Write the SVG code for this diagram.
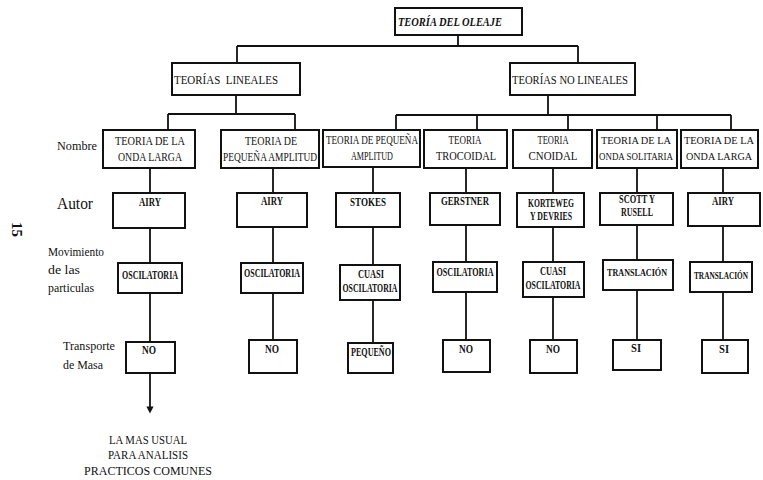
<svg xmlns="http://www.w3.org/2000/svg" width="763" height="480" viewBox="0 0 763 480">
<style>
.b{fill:#fff;stroke:#111;stroke-width:2}
.t{font-family:"Liberation Serif","DejaVu Serif",serif;font-weight:bold;font-size:11.5px;fill:#111;text-anchor:middle}
.h{font-family:"Liberation Serif","DejaVu Serif",serif;font-weight:bold;font-size:13.5px;fill:#111;text-anchor:middle}
.l{font-family:"Liberation Serif","DejaVu Serif",serif;font-size:13px;fill:#111}
.c{fill:none;stroke:#111;stroke-width:1.8}
.n{font-weight:normal}
.s{font-size:10.5px}
</style>
<defs>
<marker id="ar" viewBox="0 0 10 10" refX="5" refY="5" markerWidth="4" markerHeight="4" orient="auto">
<path d="M0,0 L10,5 L0,10 z" fill="#111"/>
</marker>
</defs>
<rect width="763" height="480" fill="#fff"/>
<g id="connectors" class="c">
<path d="M458,35V46M237,46H578M237,46V63M578,46V63"/>
<path d="M236,95V114M168,114H295M168,114V130M295,114V130"/>
<path d="M548,95V115M396,115H731M396,115V130M477,115V130M568,115V130M657,115V130M731,115V130"/>
<path d="M150,168V193M150,228V263M150,293V341"/>
<path d="M273,168V193M273,228V263M273,293V340"/>
<path d="M373,167V193M373,227V265M373,300V343"/>
<path d="M466,168V193M466,225V262M466,292V340"/>
<path d="M553,168V193M553,227V262M553,297V340"/>
<path d="M637,168V193M637,225V260M637,290V340"/>
<path d="M723,168V193M723,226V262M723,292V340"/>
<path d="M150,373V410" marker-end="url(#ar)"/>
</g>
<g id="labels">
<text class="l" x="57" y="150" textLength="40" lengthAdjust="spacingAndGlyphs">Nombre</text>
<text class="l" x="57" y="209" style="font-size:17px" textLength="36" lengthAdjust="spacingAndGlyphs">Autor</text>
<text class="l" x="48" y="256" textLength="56" lengthAdjust="spacingAndGlyphs">Movimiento</text>
<text class="l" x="48" y="274" textLength="32" lengthAdjust="spacingAndGlyphs">de las</text>
<text class="l" x="48" y="292" textLength="46" lengthAdjust="spacingAndGlyphs">particulas</text>
<text class="l" x="63" y="350" textLength="52" lengthAdjust="spacingAndGlyphs">Transporte</text>
<text class="l" x="63" y="369" textLength="40" lengthAdjust="spacingAndGlyphs">de Masa</text>
<text class="l" x="0" y="0" transform="translate(12,222) rotate(90)" style="font-size:15px;font-weight:bold">15</text>
</g>
<g id="n-root"><rect class="b" x="395" y="8" width="127" height="27"/><text class="h" x="450" y="26" textLength="104" lengthAdjust="spacingAndGlyphs" font-style="italic">TEORÍA DEL OLEAJE</text></g>
<g id="n-lin"><rect class="b" x="172" y="63" width="128" height="32"/><text class="h n" x="226" y="84" textLength="104" lengthAdjust="spacingAndGlyphs" xml:space="preserve">TEORÍAS  LINEALES</text></g>
<g id="n-nolin"><rect class="b" x="510" y="63" width="125" height="32"/><text class="h n" x="570" y="84" textLength="116" lengthAdjust="spacingAndGlyphs">TEORÍAS NO LINEALES</text></g>

<g id="n1-nombre"><rect class="b" x="103" y="130" width="92" height="38"/><text class="t n" x="150" y="145" textLength="70" lengthAdjust="spacingAndGlyphs">TEORIA DE LA</text><text class="t n" x="150" y="161" textLength="64" lengthAdjust="spacingAndGlyphs">ONDA LARGA</text></g>
<g id="n2-nombre"><rect class="b" x="221" y="130" width="98" height="38"/><text class="t n" x="271" y="145" textLength="52" lengthAdjust="spacingAndGlyphs">TEORIA DE</text><text class="t n" x="270" y="161" textLength="94" lengthAdjust="spacingAndGlyphs">PEQUEÑA AMPLITUD</text></g>
<g id="n3-nombre"><rect class="b" x="323" y="130" width="97" height="37"/><text class="t n" x="372" y="144" textLength="92" lengthAdjust="spacingAndGlyphs">TEORIA DE PEQUEÑA</text><text class="t n" x="372" y="160" textLength="42" lengthAdjust="spacingAndGlyphs">AMPLITUD</text></g>
<g id="n4-nombre"><rect class="b" x="424" y="130" width="83" height="38"/><text class="t n" x="465" y="144" textLength="33" lengthAdjust="spacingAndGlyphs">TEORIA</text><text class="t n" x="466" y="160" textLength="60" lengthAdjust="spacingAndGlyphs">TROCOIDAL</text></g>
<g id="n5-nombre"><rect class="b" x="513" y="130" width="79" height="38"/><text class="t n" x="553" y="144" textLength="31" lengthAdjust="spacingAndGlyphs">TEORIA</text><text class="t n" x="553" y="160" textLength="49" lengthAdjust="spacingAndGlyphs">CNOIDAL</text></g>
<g id="n6-nombre"><rect class="b" x="597" y="130" width="80" height="38"/><text class="t n s" x="636" y="144" textLength="70" lengthAdjust="spacingAndGlyphs">TEORIA DE LA</text><text class="t n s" x="636" y="160" textLength="74" lengthAdjust="spacingAndGlyphs">ONDA SOLITARIA</text></g>
<g id="n7-nombre"><rect class="b" x="681" y="130" width="77" height="38"/><text class="t n s" x="719" y="144" textLength="70" lengthAdjust="spacingAndGlyphs">TEORIA DE LA</text><text class="t n s" x="719" y="160" textLength="66" lengthAdjust="spacingAndGlyphs">ONDA LARGA</text></g>

<g id="n1-autor"><rect class="b" x="113" y="193" width="72" height="35"/><text class="t" x="150" y="206" textLength="22" lengthAdjust="spacingAndGlyphs">AIRY</text></g>
<g id="n2-autor"><rect class="b" x="237" y="193" width="70" height="34"/><text class="t" x="272" y="205" textLength="22" lengthAdjust="spacingAndGlyphs">AIRY</text></g>
<g id="n3-autor"><rect class="b" x="336" y="193" width="64" height="34"/><text class="t" x="368" y="206" textLength="36" lengthAdjust="spacingAndGlyphs">STOKES</text></g>
<g id="n4-autor"><rect class="b" x="430" y="193" width="70" height="32"/><text class="t" x="465" y="205" textLength="48" lengthAdjust="spacingAndGlyphs">GERSTNER</text></g>
<g id="n5-autor"><rect class="b" x="517" y="193" width="67" height="34"/><text class="t" x="551" y="207" textLength="46" lengthAdjust="spacingAndGlyphs">KORTEWEG</text><text class="t" x="551" y="220" textLength="42" lengthAdjust="spacingAndGlyphs">Y DEVRIES</text></g>
<g id="n6-autor"><rect class="b" x="600" y="193" width="73" height="32"/><text class="t" x="637" y="203" textLength="36" lengthAdjust="spacingAndGlyphs">SCOTT Y</text><text class="t" x="637" y="216" textLength="32" lengthAdjust="spacingAndGlyphs">RUSELL</text></g>
<g id="n7-autor"><rect class="b" x="688" y="193" width="72" height="33"/><text class="t" x="723" y="205" textLength="22" lengthAdjust="spacingAndGlyphs">AIRY</text></g>

<g id="n1-mov"><rect class="b" x="118" y="263" width="64" height="30"/><text class="t" x="150" y="279" textLength="56" lengthAdjust="spacingAndGlyphs">OSCILATORIA</text></g>
<g id="n2-mov"><rect class="b" x="241" y="263" width="62" height="30"/><text class="t" x="272" y="277" textLength="56" lengthAdjust="spacingAndGlyphs">OSCILATORIA</text></g>
<g id="n3-mov"><rect class="b" x="340" y="265" width="60" height="35"/><text class="t" x="371" y="278" textLength="26" lengthAdjust="spacingAndGlyphs">CUASI</text><text class="t" x="370" y="292" textLength="55" lengthAdjust="spacingAndGlyphs">OSCILATORIA</text></g>
<g id="n4-mov"><rect class="b" x="433" y="262" width="64" height="30"/><text class="t" x="465" y="276" textLength="57" lengthAdjust="spacingAndGlyphs">OSCILATORIA</text></g>
<g id="n5-mov"><rect class="b" x="523" y="262" width="61" height="35"/><text class="t" x="553" y="275" textLength="26" lengthAdjust="spacingAndGlyphs">CUASI</text><text class="t" x="553" y="289" textLength="55" lengthAdjust="spacingAndGlyphs">OSCILATORIA</text></g>
<g id="n6-mov"><rect class="b" x="603" y="260" width="70" height="30"/><text class="t s" x="637" y="276" textLength="60" lengthAdjust="spacingAndGlyphs">TRANSLACIÓN</text></g>
<g id="n7-mov"><rect class="b" x="690" y="262" width="62" height="30"/><text class="t" x="721" y="279" style="font-size:10px" textLength="54" lengthAdjust="spacingAndGlyphs">TRANSLACIÓN</text></g>

<g id="n1-tr"><rect class="b" x="126" y="342" width="49" height="31"/><text class="t" x="149" y="354" textLength="14" lengthAdjust="spacingAndGlyphs">NO</text></g>
<g id="n2-tr"><rect class="b" x="249" y="340" width="48" height="33"/><text class="t" x="272" y="353" textLength="14" lengthAdjust="spacingAndGlyphs">NO</text></g>
<g id="n3-tr"><rect class="b" x="348" y="343" width="45" height="30"/><text class="t" x="371" y="356" textLength="40" lengthAdjust="spacingAndGlyphs">PEQUEÑO</text></g>
<g id="n4-tr"><rect class="b" x="443" y="340" width="47" height="32"/><text class="t" x="466" y="353" textLength="14" lengthAdjust="spacingAndGlyphs">NO</text></g>
<g id="n5-tr"><rect class="b" x="530" y="340" width="47" height="33"/><text class="t" x="553" y="353" textLength="14" lengthAdjust="spacingAndGlyphs">NO</text></g>
<g id="n6-tr"><rect class="b" x="613" y="340" width="48" height="30"/><text class="t" x="636" y="352" textLength="10" lengthAdjust="spacingAndGlyphs">SI</text></g>
<g id="n7-tr"><rect class="b" x="702" y="340" width="46" height="33"/><text class="t" x="724" y="353" textLength="10" lengthAdjust="spacingAndGlyphs">SI</text></g>

<g id="note">
<text class="t n" x="148" y="444" style="font-size:12.5px" textLength="78" lengthAdjust="spacingAndGlyphs">LA MAS USUAL</text>
<text class="t n" x="148" y="459" style="font-size:12.5px" textLength="80" lengthAdjust="spacingAndGlyphs">PARA ANALISIS</text>
<text class="t n" x="148" y="475" style="font-size:12.5px" textLength="128" lengthAdjust="spacingAndGlyphs">PRACTICOS COMUNES</text>
</g>
</svg>
